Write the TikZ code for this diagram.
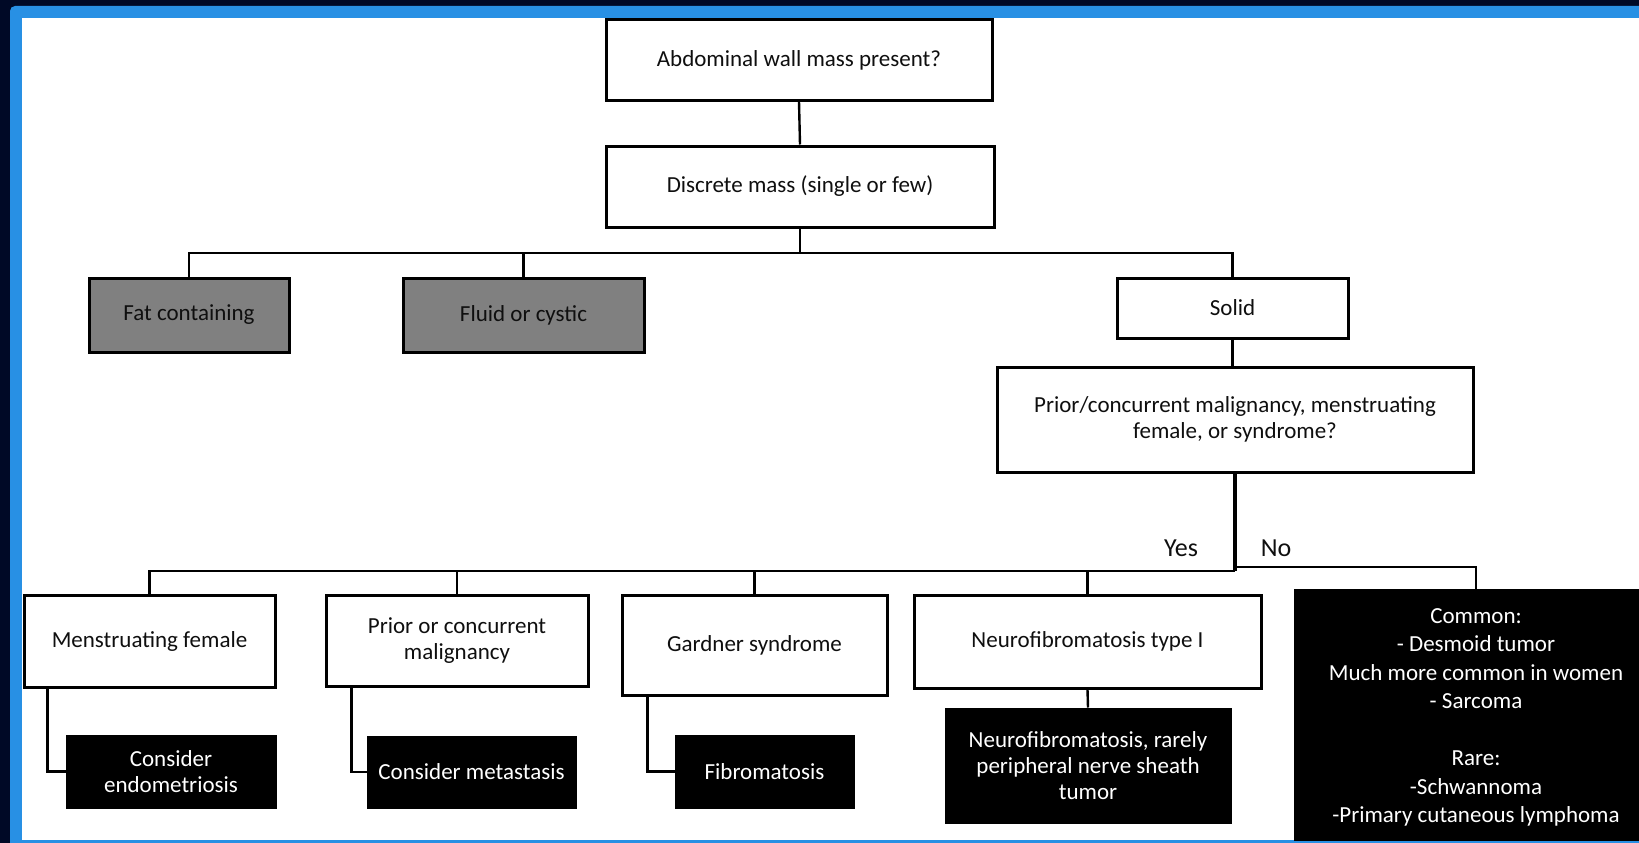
\documentclass[tikz,border=0pt]{standalone}
\usepackage{fontspec}
\setmainfont{Carlito}
\definecolor{navybg}{RGB}{0,9,38}
\definecolor{frameblue}{RGB}{40,144,228}
\definecolor{inkc}{RGB}{15,15,15}
\definecolor{greyfill}{RGB}{128,128,128}
\begin{document}
\begin{tikzpicture}[x=1pt,y=-1pt,
  wbox/.style={draw=black, line width=3pt, fill=white, text=inkc, align=center, inner sep=0pt,
    font=\fontsize{23}{26}\selectfont},
  gbox/.style={wbox, fill=greyfill},
  kbox/.style={draw=black, line width=1pt, fill=black, text=white, align=center, inner sep=0pt,
    font=\fontsize{23}{26}\selectfont},
  conn/.style={draw=black, line width=2.4pt},
  thickconn/.style={draw=black, line width=4pt},
  lbl/.style={text=inkc, inner sep=0pt, font=\fontsize{26}{28}\selectfont}]
\useasboundingbox (0,0) rectangle (1639,843);
\fill[navybg] (0,0) rectangle (1639,843);
\fill[frameblue, rounded corners=5pt] (10,6) rectangle (1690,890);
\fill[white] (22,18) rectangle (1690,840);
\begin{scope}
\clip (22,18) rectangle (1639,840);
% nodes
\node[wbox, minimum width=386, minimum height=80] (top) at (799,60) {Abdominal wall mass present?};
\node[wbox, minimum width=388, minimum height=81] (disc) at (800,186.5) {Discrete mass (single or few)};
\node[gbox, minimum width=200, minimum height=74] (fat) at (189,315) {Fat containing};
\node[gbox, minimum width=241, minimum height=74] (fluid) at (523.5,315) {Fluid or cystic};
\node[wbox, minimum width=231, minimum height=60] (solid) at (1232.5,308) {Solid};
\node[wbox, minimum width=476, minimum height=105] (prior) at (1235,419.5)
  {Prior/concurrent malignancy, menstruating\\female, or syndrome?};
\node[wbox, minimum width=251, minimum height=92] (menst) at (149.5,641) {Menstruating female};
\node[wbox, minimum width=262, minimum height=91] (pcm) at (457,640.5) {Prior or concurrent\\malignancy};
\node[wbox, minimum width=265, minimum height=100] (gard) at (754.5,645) {Gardner syndrome};
\node[wbox, minimum width=347, minimum height=93] (nf) at (1087.5,641.5) {Neurofibromatosis type I};
\node[kbox, minimum width=364, minimum height=257, font=\fontsize{23}{28.5}\selectfont] (common) at (1476,717.5)
  {Common:\\- Desmoid tumor\\Much more common in women\\- Sarcoma\\[28.5pt]Rare:\\-Schwannoma\\-Primary cutaneous lymphoma};
\node[kbox, minimum width=210, minimum height=73] (endo) at (171,771.5) {Consider\\endometriosis};
\node[kbox, minimum width=209, minimum height=72] (meta) at (471.5,772) {Consider metastasis};
\node[kbox, minimum width=179, minimum height=73] (fibro) at (764.5,771.5) {Fibromatosis};
\node[kbox, minimum width=286, minimum height=115] (nfb) at (1088,765.5)
  {Neurofibromatosis, rarely\\peripheral nerve sheath\\tumor};
\node[lbl] (yes) at (1181,548) {Yes};
\node[lbl] (no) at (1276,548) {No};
% connectors
\coordinate (bar) at (800,253);
\coordinate (split) at (1235,571);
\coordinate (nosplit) at (1235,567);
\draw[conn] (top.south) -- (disc.north);
\draw[conn] (disc.south) -- (bar);
\draw[conn] (fat.north) |- (bar) -| (solid.north);
\draw[conn] (fluid.north) -- (fluid.north |- bar);
\draw[conn] (solid.south) -- (solid.south |- prior.north);
\draw[thickconn] (prior.south) -- (split);
\draw[conn] (menst.north) |- (split);
\draw[conn] (pcm.north) -- (pcm.north |- split);
\draw[conn] (gard.north) -- (gard.north |- split);
\draw[conn] (nf.north) -- (nf.north |- split);
\draw[conn] (nosplit) -| (common.north);
\draw[conn] ([xshift=25pt]menst.south west) |- (endo.west);
\draw[conn] ([xshift=27pt]pcm.south west) |- (meta.west);
\draw[conn] ([xshift=27pt]gard.south west) |- (fibro.west);
\draw[conn] (nf.south) -- (nfb.north);
\end{scope}
\end{tikzpicture}
\end{document}
